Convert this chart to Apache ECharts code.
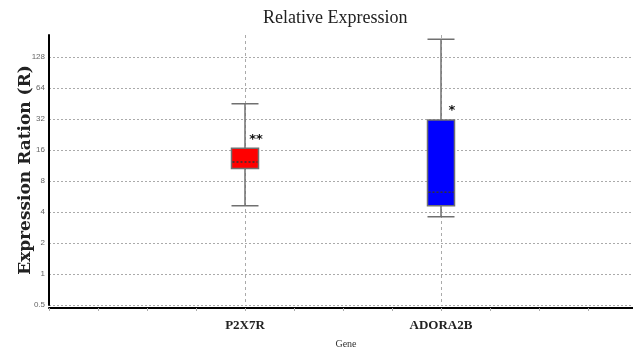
<!DOCTYPE html>
<html>
<head>
<meta charset="utf-8">
<script src="https://cdn.jsdelivr.net/npm/echarts@6/dist/echarts.min.js"></script>
<style>
html, body { margin: 0; padding: 0; background: #fff; }
#chart { width: 633px; height: 349px; }
</style>
</head>
<body>
<div id="chart"></div>
<script>
// genes and box values [min, Q1, median, Q3, max]
var genes = ['P2X7R', 'ADORA2B']
var lowWhisker = [4.6, 3.6]
var lowerQuart = [10.6, 4.6]
var medians = [12.2, 6.2]
var upperQuart = [16.6, 31.3]
var highWhisker = [45, 190]
var boxColors = ['#ff0000', '#0000ff']
var stars = ['**', '*']

// x axis: 13 slots, gene i sits on slot 4 * (i + 1)
var slots = []
for (var s = 0; s <= 12; s++) slots.push('')
var geneSlot = genes.map(function (g, i) { return 4 * (i + 1) })
geneSlot.forEach(function (p, i) { slots[p] = genes[i] })

var myChart = echarts.init(document.getElementById('chart'))
myChart.setOption({
  animation: false,
  title: {
    text: 'Relative Expression',
    left: 258,
    top: 4,
    textStyle: { fontFamily: 'Liberation Serif', fontSize: 18, fontWeight: 'normal', color: '#222' }
  },
  grid: { left: 49, right: -4, top: 35, bottom: 44, outerBoundsMode: 'none', containLabel: false },
  xAxis: {
    type: 'category',
    data: slots,
    boundaryGap: false,
    offset: 3,
    name: 'Gene',
    nameLocation: 'middle',
    nameGap: 31,
    nameMoveOverlap: false,
    nameTextStyle: { fontFamily: 'Liberation Serif', fontSize: 10, color: '#333', padding: [0, 0, 0, 6] },
    axisLine: { lineStyle: { color: '#000', width: 2 } },
    axisTick: { show: true, interval: 0, length: 3, lineStyle: { color: '#aaa' } },
    axisLabel: {
      interval: 0,
      margin: 11,
      fontFamily: 'Liberation Serif',
      fontWeight: 'bold',
      fontSize: 13,
      color: '#222'
    },
    splitLine: {
      show: true,
      interval: function (index, value) { return value !== '' },
      lineStyle: { color: '#aaa', type: [3, 3], width: 1 }
    }
  },
  yAxis: {
    type: 'log',
    logBase: 2,
    min: 0.5,
    max: 209,
    interval: 1,
    name: 'Expression Ration (R)',
    nameLocation: 'middle',
    nameGap: 15,
    nameMoveOverlap: false,
    nameTextStyle: { fontFamily: 'DejaVu Serif', fontWeight: 'bold', fontSize: 17, color: '#222' },
    axisLine: { show: true, lineStyle: { color: '#000', width: 2 } },
    axisTick: { show: false },
    axisLabel: {
      showMaxLabel: false,
      margin: 4,
      fontFamily: 'Liberation Sans',
      fontSize: 8,
      color: '#666'
    },
    splitLine: {
      show: true,
      showMaxLine: false,
      lineStyle: { color: '#aaa', type: [2, 2], width: 1 }
    }
  },
  series: [
    {
      type: 'boxplot',
      boxWidth: [27, 27],
      encode: { x: 0, y: [1, 2, 3, 4, 5] },
      itemStyle: { borderColor: '#707070', borderWidth: 1.5 },
      data: genes.map(function (g, i) {
        return {
          value: [geneSlot[i], lowWhisker[i], lowerQuart[i], medians[i], upperQuart[i], highWhisker[i]],
          itemStyle: { color: boxColors[i] }
        }
      })
    },
    {
      type: 'custom',
      z: 5,
      data: genes.map(function (g, i) { return [geneSlot[i], medians[i], upperQuart[i]] }),
      renderItem: function (params, api) {
        var i = params.dataIndex
        var m = api.coord([api.value(0), api.value(1)])
        var q = api.coord([api.value(0), api.value(2)])
        return {
          type: 'group',
          children: [
            { type: 'line', shape: { x1: m[0] - 12.5, y1: m[1], x2: m[0] + 12.5, y2: m[1] }, style: { stroke: boxColors[i], lineWidth: 2.5 } },
            { type: 'line', shape: { x1: m[0] - 12.5, y1: m[1], x2: m[0] + 12.5, y2: m[1] }, style: { stroke: '#333', lineWidth: 1.5, lineDash: [2, 2] } },
            { type: 'text', x: q[0] + 11, y: q[1] - 9, style: { text: stars[i], fill: '#111', font: 'bold 13px DejaVu Sans', align: 'center', verticalAlign: 'middle' } }
          ]
        }
      }
    }
  ]
})
</script>
</body>
</html>
